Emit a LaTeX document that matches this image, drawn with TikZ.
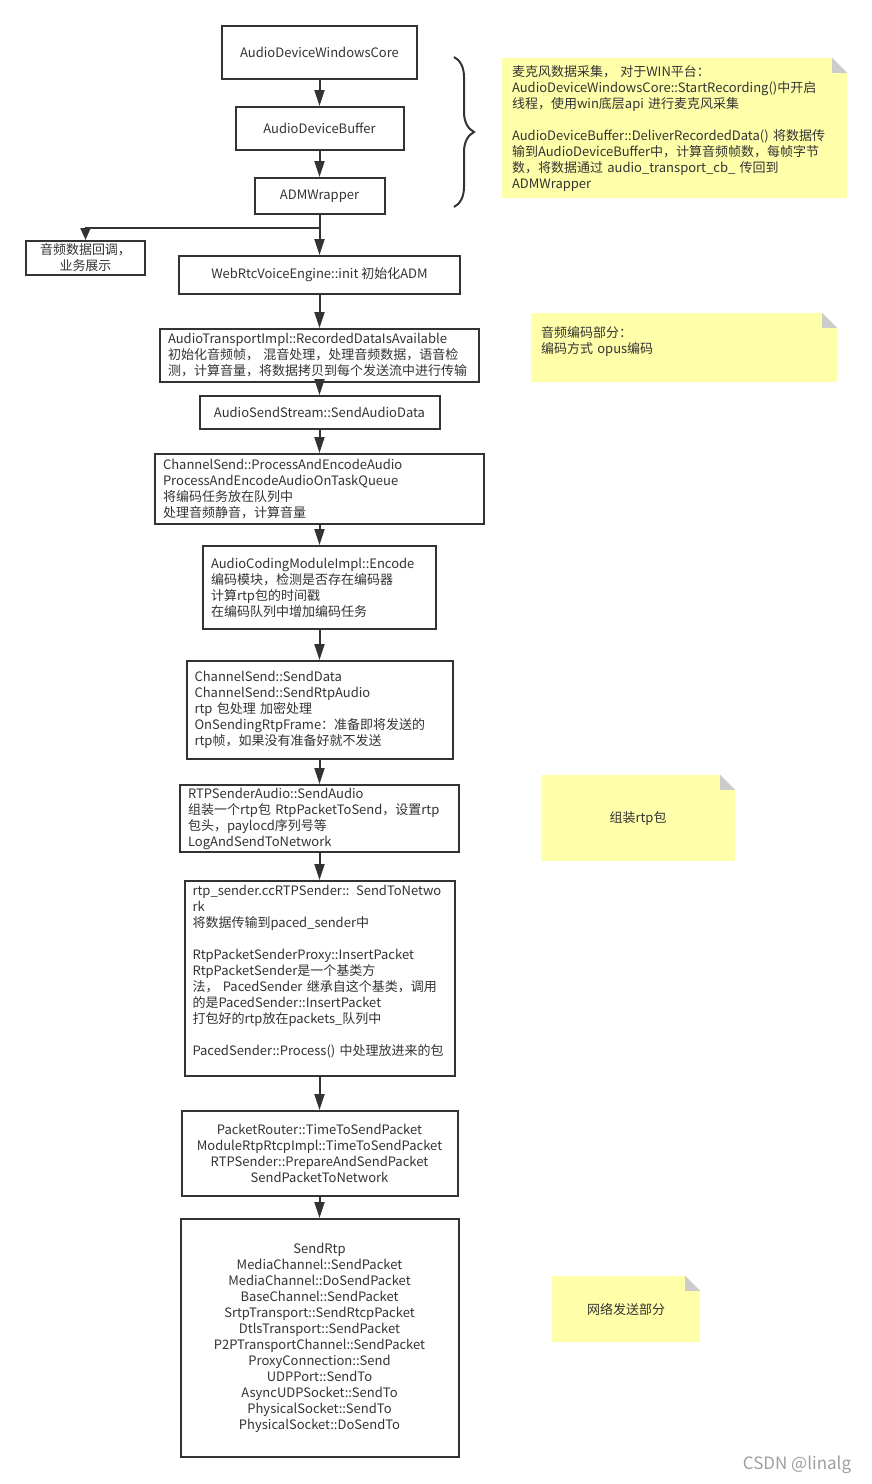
\documentclass[tikz,border=0pt]{standalone}
\usepackage{fontspec}
\setmainfont{Noto Sans CJK SC}
\usepackage{tikz}
\usetikzlibrary{arrows.meta,positioning,decorations.pathreplacing}
\usepackage{xcolor}
\definecolor{adminkline}{HTML}{333333}
\definecolor{admnote}{HTML}{FFFFAA}
\definecolor{admfold}{HTML}{CCCCCC}
\tikzset{
  flowbox/.style={
    rectangle,
    draw=adminkline,
    line width=2pt,
    fill=white,
    align=center,
    inner xsep=8pt,
    inner ysep=1pt,
    text=adminkline,
    font=\fontsize{13pt}{16pt}\selectfont
  },
  flowleft/.style={flowbox, align=left},
  notebox/.style={
    rectangle,
    fill=admnote,
    inner xsep=10pt,
    inner ysep=2pt,
    text=adminkline,
    font=\fontsize{13pt}{16pt}\selectfont
  },
  flowarrow/.style={-{Triangle[length=16pt,width=10pt]}, line width=2pt, draw=adminkline}
}

\begin{document}
\begin{tikzpicture}[x=1pt,y=-1pt]
\useasboundingbox (0,0) rectangle (871,1484);
% capture chain
\node[flowbox, minimum width=195pt, minimum height=53pt] (wincore) at (319.5,52.5) {AudioDeviceWindowsCore};
\node[flowbox, minimum width=168pt, minimum height=43pt, below=26pt of wincore] (devbuf) {AudioDeviceBuffer};
\node[flowbox, minimum width=130pt, minimum height=36pt, below=26pt of devbuf] (admwrap) {ADMWrapper};
\node[flowbox, minimum width=119pt, minimum height=34pt] (callback) at (85.5,258) {音频数据回调，\\业务展示};
\node[flowbox, minimum width=281pt, minimum height=38pt, below=40pt of admwrap] (voiceinit) {WebRtcVoiceEngine::init 初始化ADM};
% encode chain
\node[flowleft, text width=303pt, minimum height=53pt, below=33pt of voiceinit] (recorded) {AudioTransportImpl::RecordedDataIsAvailable\\初始化音频帧， 混音处理，处理音频数据，语音检\\测，计算音量，将数据拷贝到每个发送流中进行传输};
\node[flowbox, minimum width=240pt, minimum height=33pt, below=12pt of recorded] (sendstream) {AudioSendStream::SendAudioData};
\node[flowleft, text width=313pt, minimum height=70pt, below=23pt of sendstream] (procenc) {ChannelSend::ProcessAndEncodeAudio\\ProcessAndEncodeAudioOnTaskQueue\\将编码任务放在队列中\\处理音频静音，计算音量};
\node[flowleft, text width=217pt, minimum height=83pt, below=20pt of procenc] (acmenc) {AudioCodingModuleImpl::Encode\\编码模块，检测是否存在编码器\\计算rtp包的时间戳\\在编码队列中增加编码任务};
\node[flowleft, text width=250pt, minimum height=98pt, below=30pt of acmenc] (senddata) {ChannelSend::SendData\\ChannelSend::SendRtpAudio\\rtp 包处理 加密处理\\OnSendingRtpFrame：准备即将发送的\\rtp帧，如果没有准备好就不发送};
% packet and network chain
\node[flowleft, text width=263pt, minimum height=67pt, below=24pt of senddata] (rtpaudio) {RTPSenderAudio::SendAudio\\组装一个rtp包 RtpPacketToSend，设置rtp\\包头，paylocd序列号等\\LogAndSendToNetwork};
\node[flowleft, text width=254pt, minimum height=195pt, below=27pt of rtpaudio] (rtpsender) {rtp\_sender.ccRTPSender:: SendToNetwo\\rk\\将数据传输到paced\_sender中\\[16pt]RtpPacketSenderProxy::InsertPacket\\RtpPacketSender是一个基类方\\法， PacedSender 继承自这个基类，调用\\的是PacedSender::InsertPacket\\打包好的rtp放在packets\_队列中\\[16pt]PacedSender::Process() 中处理放进来的包\\ \mbox{}};
\node[flowbox, minimum width=276pt, minimum height=85pt, below=33pt of rtpsender] (router) {PacketRouter::TimeToSendPacket\\ModuleRtpRtcpImpl::TimeToSendPacket\\RTPSender::PrepareAndSendPacket\\SendPacketToNetwork};
\node[flowbox, minimum width=278pt, minimum height=238pt, below=21pt of router] (sendrtp) {SendRtp\\MediaChannel::SendPacket\\MediaChannel::DoSendPacket\\BaseChannel::SendPacket\\SrtpTransport::SendRtcpPacket\\DtlsTransport::SendPacket\\P2PTransportChannel::SendPacket\\ProxyConnection::Send\\UDPPort::SendTo\\AsyncUDPSocket::SendTo\\PhysicalSocket::SendTo\\PhysicalSocket::DoSendTo};
% notes
\node[notebox, align=left, text width=325pt, minimum height=140pt] (capnote) at (674.5,128) {麦克风数据采集， 对于WIN平台：\\AudioDeviceWindowsCore::StartRecording()中开启\\线程，使用win底层api 进行麦克风采集\\[16pt]AudioDeviceBuffer::DeliverRecordedData() 将数据传\\输到AudioDeviceBuffer中，计算音频帧数，每帧字节\\数，将数据通过 audio\_transport\_cb\_ 传回到\\ADMWrapper};
\node[notebox, align=left, text width=286pt, minimum height=69pt] (encnote) at (684,347.5) {音频编码部分：\\编码方式 opus编码\\ \mbox{}};
\node[notebox, align=center, minimum width=194pt, minimum height=86pt] (rtpnote) at (638,818) {组装rtp包};
\node[notebox, align=center, minimum width=148pt, minimum height=66pt] (netnote) at (626,1309) {网络发送部分};
\foreach \n in {capnote,encnote,rtpnote,netnote} {
  \fill[white] ([xshift=-15pt]\n.north east) -- (\n.north east) -- ([yshift=-15pt]\n.north east) -- cycle;
  \fill[admfold] ([xshift=-15pt]\n.north east) -- ([xshift=-15pt,yshift=-15pt]\n.north east) -- ([yshift=-15pt]\n.north east) -- cycle;
}
\draw[adminkline, line width=2pt, decorate, decoration={brace, amplitude=20pt}] (454,57) -- (454,207);
% connectors
\coordinate (split) at (320,228);
\draw[flowarrow] (wincore) -- (devbuf);
\draw[flowarrow] (devbuf) -- (admwrap);
\draw[flowarrow] (admwrap) -- (voiceinit);
\draw[flowarrow, -{Triangle[length=12pt,width=10pt]}] (split) -| (callback.north);
\draw[flowarrow] (voiceinit) -- (recorded);
\draw[flowarrow] (recorded) -- (sendstream);
\draw[flowarrow] (sendstream) -- (procenc);
\draw[flowarrow] (procenc) -- (acmenc);
\draw[flowarrow] (acmenc) -- (senddata);
\draw[flowarrow] (senddata) -- (rtpaudio);
\draw[flowarrow] (rtpaudio) -- (rtpsender);
\draw[flowarrow] (rtpsender) -- (router);
\draw[flowarrow] (router) -- (sendrtp);
\node[text=gray!75, font=\fontsize{17pt}{20pt}\selectfont] (mark) at (797,1465) {CSDN @linalg};
\end{tikzpicture}
\end{document}
